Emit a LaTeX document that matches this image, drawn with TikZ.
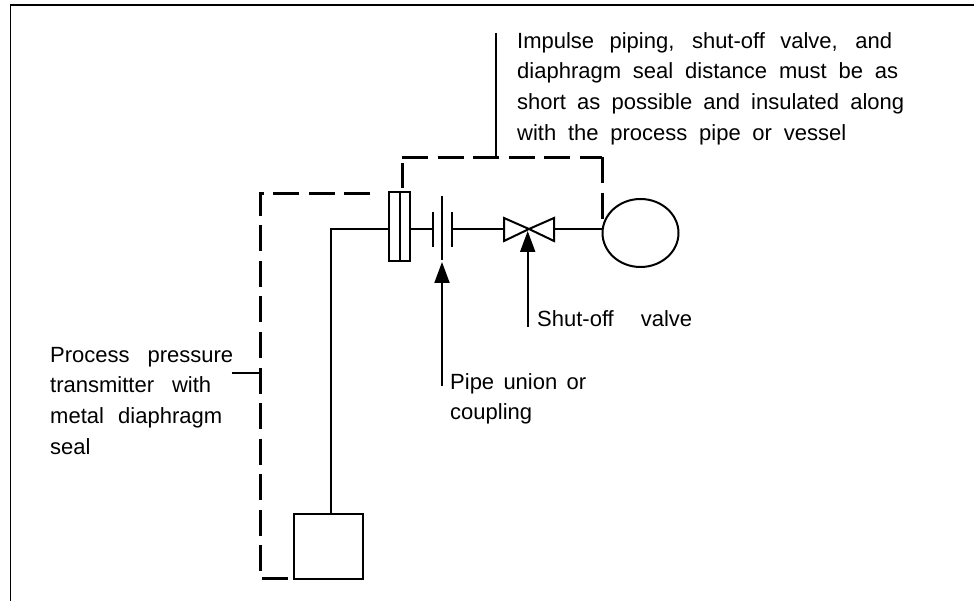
\documentclass[tikz,border=0pt]{standalone}
\usepackage{fontspec}
\setmainfont{Liberation Sans}
\usepackage{xcolor}
\usetikzlibrary{arrows.meta,positioning,shapes.geometric}
\newcommand{\lineA}[2]{\makebox[#1pt][s]{#2}}

\begin{document}
\begin{tikzpicture}[
      x=1pt, y=-1pt,
      equip/.style={draw, line width=2pt, inner sep=0pt},
      lbl/.style={font=\fontsize{22}{30.7}\selectfont, align=left, inner sep=0pt, anchor=north west},
      pipe/.style={line width=2pt},
      capil/.style={line width=3pt, dash pattern=on 26pt off 9.5pt},
      lead/.style={line width=2pt},
      arr/.style={-{Triangle[width=15pt,length=21pt]}, line width=2pt}
  ]
    \useasboundingbox (0,0) rectangle (974,601);
    % frame
    \coordinate (frameA) at (10.5,601);
    \coordinate (frameB) at (10.5,5);
    \coordinate (frameC) at (974,5);
    \draw[line width=1.4pt] (frameA)--(frameB)--(frameC);
    % equipment
    \node[equip, minimum width=69pt, minimum height=65pt] (tx) at (328.5,546.5) {};
    \node[equip, minimum width=21pt, minimum height=69pt] (flange) at (399.5,226.5) {};
    \node[equip, ellipse, minimum width=76pt, minimum height=68pt] (vessel) at (640.5,233) {};
    \draw[equip] (flange.north)--(flange.south);
    \coordinate (flangeL) at (389,229);
    \coordinate (flangeR) at (410,229);
    \coordinate (unionL) at (433,229);
    \coordinate (unionR) at (452,229);
    \draw[equip] (433,212)--(433,247);
    \draw[equip] (442,196)--(442,260);
    \draw[equip] (452,212)--(452,247);
    \coordinate (valveL) at (504,229);
    \coordinate (valveM) at (529,229);
    \coordinate (valveR) at (554,229);
    \coordinate (vesselL) at (602.5,229);
    \draw[equip] (valveM)--(504,218)--(504,241)--cycle;
    \draw[equip] (valveM)--(554,218)--(554,241)--cycle;
    % piping
    \coordinate (txtop) at (330.5,514);
    \draw[pipe] (txtop)|-(flangeL);
    \draw[pipe] (flangeR)--(unionL);
    \draw[pipe] (unionR)--(valveL);
    \draw[pipe] (valveR)--(vesselL);
    % capillary
    \coordinate (capA) at (402,188);
    \coordinate (capA2) at (402,163);
    \coordinate (capB) at (402,157.5);
    \coordinate (capC) at (602,157.5);
    \coordinate (capD) at (602,219);
    \coordinate (capE) at (370,193.5);
    \coordinate (capF) at (260,193.5);
    \coordinate (capG) at (260,574);
    \coordinate (capH) at (262,578);
    \coordinate (capI) at (288,578);
    \draw[capil, solid] (capA)--(capA2);
    \draw[capil] (capB)--(capC);
    \draw[capil] (capC)--(capD);
    \draw[capil] (capE)--(capF)--(capG);
    \draw[capil, solid] (capH)--(capI);
    % labels
    \node[lbl] (note) at (517,32) {\lineA{375}{Impulse piping, shut-off valve, and}\\
      \lineA{381}{diaphragm seal distance must be as}\\
      \lineA{387}{short as possible and insulated along}\\
      \lineA{329}{with the process pipe or vessel}};
    \node[lbl] (proc) at (50,346.7) {\lineA{183}{Process pressure}\\
      \lineA{161}{transmitter with}\\
      \lineA{172}{metal diaphragm}\\
      seal};
    \node[lbl] (sov) at (537,310) {\lineA{155}{Shut-off valve}};
    \node[lbl] (coup) at (450,373) {\lineA{136}{Pipe union or}\\coupling};
    % leaders
    \coordinate (noteL) at (495.7,33);
    \coordinate (noteB) at (495.7,157);
    \draw[lead] (noteL)--(noteB);
    \coordinate (procL) at (231.7,373);
    \coordinate (procR) at (260,373);
    \draw[lead] (procL)--(procR);
    \coordinate (sovB) at (527.7,327);
    \coordinate (sovT) at (527.7,231);
    \draw[arr] (sovB)--(sovT);
    \coordinate (coupB) at (442,386);
    \coordinate (coupT) at (442,262);
    \draw[arr] (coupB)--(coupT);
\end{tikzpicture}
\end{document}
